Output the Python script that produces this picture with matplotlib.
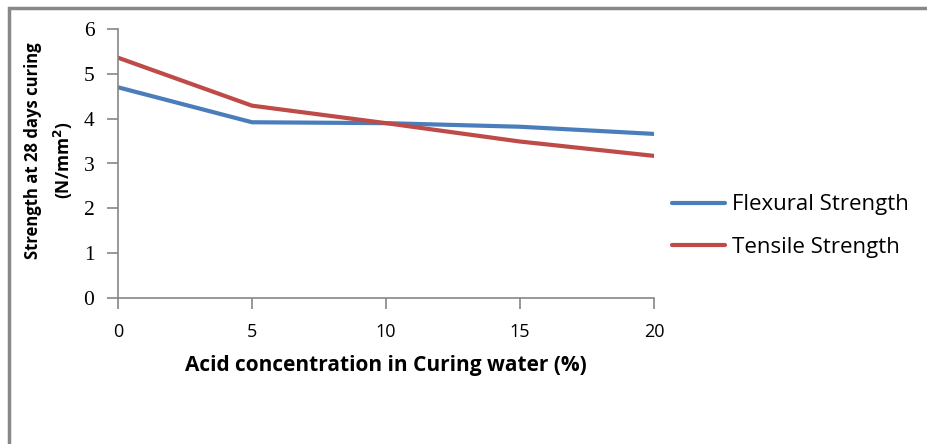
import matplotlib.pyplot as plt
from matplotlib.patches import Rectangle

acid = [0, 5, 10, 15, 20]
flexural = [4.70, 3.92, 3.90, 3.82, 3.66]
tensile = [5.36, 4.29, 3.90, 3.49, 3.17]

blue = '#4a7ebb'
red = '#be4b48'
axis_gray = '#868686'

fig = plt.figure(figsize=(9.28, 4.44), dpi=100)
ax = fig.add_axes([118/928, 1-298/444, (654-118)/928, (298-29)/444])

ax.plot(acid, flexural, color=blue, lw=3, label='Flexural Strength', solid_capstyle='round')
ax.plot(acid, tensile, color=red, lw=3, label='Tensile Strength', solid_capstyle='round')

ax.set_xlim(0, 20)
ax.set_ylim(0, 6)
ax.set_xticks([0, 5, 10, 15, 20])
ax.set_yticks(range(7))
for s in ['top', 'right']:
    ax.spines[s].set_visible(False)
for s in ['left', 'bottom']:
    ax.spines[s].set_color(axis_gray)
    ax.spines[s].set_linewidth(1.2)
ax.tick_params(axis='both', color=axis_gray, width=1.2, length=8, direction='out')
ax.tick_params(axis='x', pad=10)
ax.tick_params(axis='y', pad=9)
for t in ax.get_yticklabels():
    t.set_family('Liberation Serif')
    t.set_fontsize(15.5)
for t in ax.get_xticklabels():
    t.set_family('Open Sans')
    t.set_fontsize(13)

fig.text(386/928, 1-365/444, 'Acid concentration in Curing water (%)', ha='center', va='center',
         fontsize=15, fontweight='bold', family='Open Sans')
fig.text(33/928, 1-151/444, 'Strength at 28 days curing', rotation=90, ha='center', va='center',
         fontsize=12, fontweight='bold', family='Open Sans')
fig.text(63/928, 1-160/444, '(N/mm$^\\mathbf{2}$)', rotation=90, ha='center', va='center',
         fontsize=12.5, fontweight='bold', family='Open Sans')

leg = fig.legend(loc='center left', bbox_to_anchor=(672/928, 1-226/444), frameon=False,
                 borderpad=0, borderaxespad=0,
                 handlelength=2.4, labelspacing=0.95, handletextpad=0.3,
                 prop={'family': 'Open Sans', 'size': 16})

fig.add_artist(Rectangle((9/928, -0.1), 1.0, 1.1 - 8/444, transform=fig.transFigure,
                         fill=False, edgecolor='#888888', lw=2.5))

fig.savefig('out.png', dpi=100)
